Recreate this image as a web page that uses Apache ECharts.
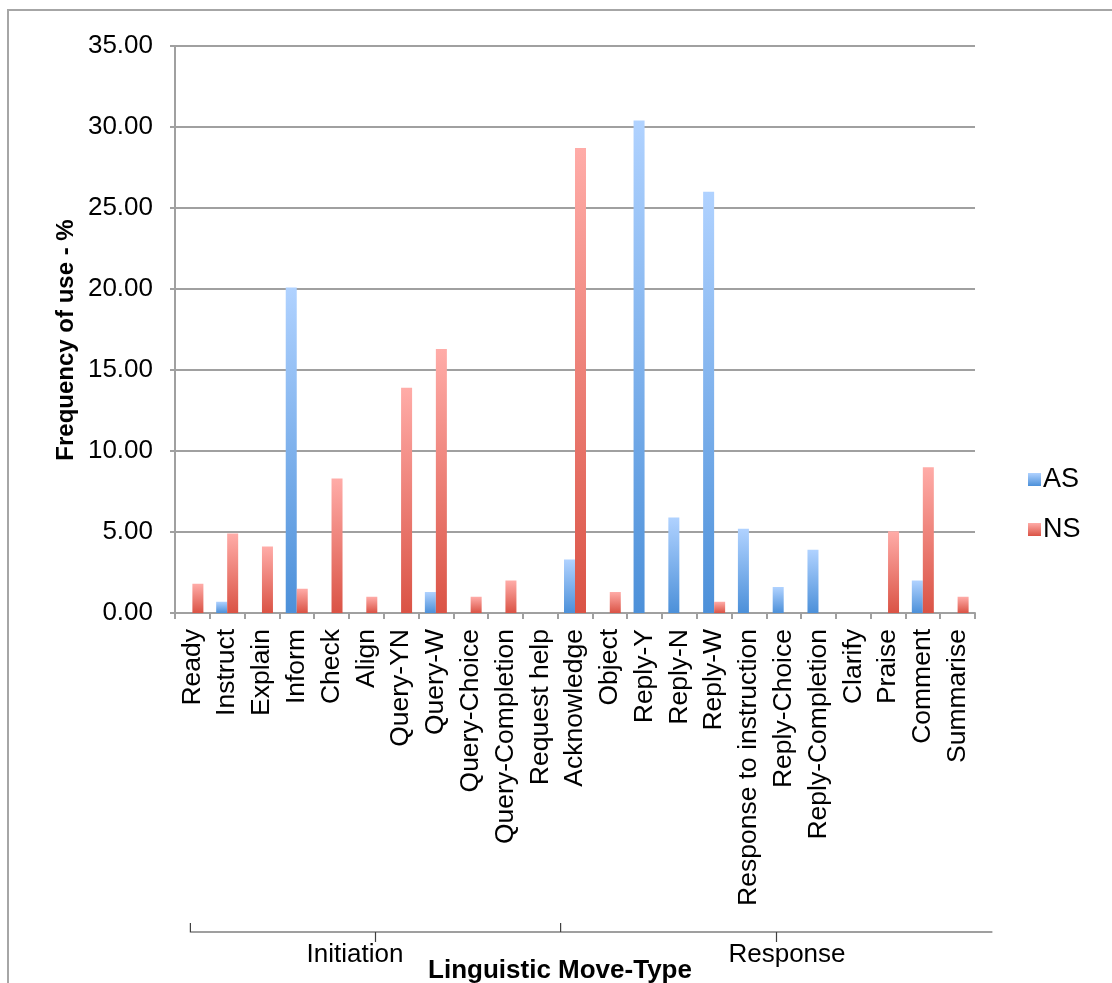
<!DOCTYPE html>
<html>
<head>
<meta charset="utf-8">
<script src="https://cdn.jsdelivr.net/npm/echarts@6/dist/echarts.min.js"></script>
<style>
  html, body { margin: 0; padding: 0; background: #ffffff; }
  #chart { width: 1112px; height: 983px; }
</style>
</head>
<body>
<div id="chart"></div>
<script>
// Move types, in the order they are coded
const categories = [
  'Ready', 'Instruct', 'Explain', 'Inform', 'Check', 'Align', 'Query-YN', 'Query-W',
  'Query-Choice', 'Query-Completion', 'Request help', 'Acknowledge', 'Object',
  'Reply-Y', 'Reply-N', 'Reply-W', 'Response to instruction', 'Reply-Choice',
  'Reply-Completion', 'Clarify', 'Praise', 'Comment', 'Summarise'
];
// Frequency of use (%) per speaker group
const asValues = [0, 0.7, 0, 20.1, 0, 0, 0, 1.3, 0, 0, 0, 3.3, 0, 30.4, 5.9, 26.0, 5.2, 1.6, 3.9, 0, 0, 2.0, 0];
const nsValues = [1.8, 4.9, 4.1, 1.5, 8.3, 1.0, 13.9, 16.3, 1.0, 2.0, 0, 28.7, 1.3, 0, 0, 0.7, 0, 0, 0, 0, 5.05, 9.0, 1.0];
const yTicks = [0, 5, 10, 15, 20, 25, 30, 35];
// Move-type groups: first and last category index of each
const groupNames = ['Initiation', 'Response'];
const groupStarts = [0, 11];
const groupEnds = [10, 22];

const FONT = '"Liberation Sans", Arial, Helvetica, sans-serif';

function grad(top, bottom) {
  return new echarts.graphic.LinearGradient(0, 0, 0, 1, [
    { offset: 0, color: top },
    { offset: 1, color: bottom }
  ]);
}

const chart = echarts.init(document.getElementById('chart'), null, { renderer: 'canvas' });

const barShadow = {
  shadowBlur: 3,
  shadowOffsetX: 2,
  shadowOffsetY: 1,
  shadowColor: 'rgba(0,0,0,0.25)'
};

chart.setOption({
  animation: false,
  backgroundColor: '#ffffff',
  grid: { left: 175, right: 137, top: 46, bottom: 370, containLabel: false },
  legend: {
    orient: 'vertical',
    left: 1023,
    top: 461,
    itemWidth: 13,
    itemHeight: 13,
    itemGap: 23,
    icon: 'rect',
    textStyle: { fontFamily: FONT, fontSize: 27, color: '#000', padding: [0, 0, 0, -3] },
    data: ['AS', 'NS']
  },
  xAxis: {
    type: 'category',
    data: categories,
    axisLine: { show: true, lineStyle: { color: '#a0a0a0', width: 2 } },
    axisTick: { show: true, length: 6, lineStyle: { color: '#a0a0a0', width: 2 } },
    axisLabel: {
      rotate: 90,
      interval: 0,
      margin: 16,
      fontFamily: FONT,
      fontSize: 26.5,
      color: '#000'
    },
    splitLine: { show: false }
  },
  yAxis: {
    type: 'value',
    min: yTicks[0],
    max: yTicks[yTicks.length - 1],
    interval: 5,
    axisLine: { show: true, lineStyle: { color: '#a0a0a0', width: 2 } },
    axisTick: { show: true, length: 5, lineStyle: { color: '#a0a0a0', width: 2 } },
    axisLabel: {
      margin: 22,
      fontFamily: FONT,
      fontSize: 26,
      color: '#000',
      formatter: v => v.toFixed(2)
    },
    splitLine: { show: true, lineStyle: { color: '#a0a0a0', width: 2 } }
  },
  series: [
    {
      name: 'AS',
      type: 'bar',
      data: asValues,
      barWidth: 11,
      barGap: '0%',
      itemStyle: Object.assign({ color: grad('#b0d2ff', '#4c90d9') }, barShadow)
    },
    {
      name: 'NS',
      type: 'bar',
      data: nsValues,
      barWidth: 11,
      barGap: '0%',
      itemStyle: Object.assign({ color: grad('#ffaca8', '#da5345') }, barShadow)
    }
  ]
});

// Group brackets under the category labels, placed from the category scale
function drawGroups() {
  const px = i => chart.convertToPixel({ xAxisIndex: 0 }, i);
  const step = px(1) - px(0);
  const lineY = 932;
  const up = 9;
  const down = 10;
  const elements = [];

  // outer frame of the chart area
  elements.push({
    type: 'rect',
    shape: { x: 8, y: 10, width: 1300, height: 1300 },
    style: { fill: 'none', stroke: '#a6a6a6', lineWidth: 2 },
    silent: true
  });

  // value axis title
  elements.push({
    type: 'text',
    x: 66,
    y: 340,
    rotation: Math.PI / 2,
    style: {
      text: 'Frequency of use - %',
      font: 'bold 24px ' + FONT,
      fill: '#000',
      align: 'center',
      verticalAlign: 'middle'
    },
    silent: true
  });

  const x0 = px(groupStarts[0]) - 2;
  const xJoin = (px(groupEnds[0]) + px(groupStarts[1])) / 2 + 3;
  const xEnd = px(groupEnds[1]) + step;
  const bounds = [[x0, xJoin], [xJoin, xEnd]];

  elements.push({
    type: 'polyline',
    shape: { points: [[x0, lineY - up], [x0, lineY], [xEnd, lineY]] },
    style: { stroke: '#404040', lineWidth: 1.2, fill: null },
    silent: true
  });
  elements.push({
    type: 'line',
    shape: { x1: xJoin, y1: lineY - up, x2: xJoin, y2: lineY },
    style: { stroke: '#404040', lineWidth: 1.2 },
    silent: true
  });

  const labelCenters = [355, 787];
  bounds.forEach((b, k) => {
    const mid = (b[0] + b[1]) / 2;
    elements.push({
      type: 'line',
      shape: { x1: mid, y1: lineY, x2: mid, y2: lineY + down },
      style: { stroke: '#404040', lineWidth: 1.2 },
      silent: true
    });
    elements.push({
      type: 'text',
      x: labelCenters[k],
      y: 955,
      style: {
        text: groupNames[k],
        font: '26px ' + FONT,
        fill: '#000',
        align: 'center',
        verticalAlign: 'middle'
      },
      silent: true
    });
  });

  elements.push({
    type: 'text',
    x: 560,
    y: 971,
    style: {
      text: 'Linguistic Move-Type',
      font: 'bold 26px ' + FONT,
      fill: '#000',
      align: 'center',
      verticalAlign: 'middle'
    },
    silent: true
  });

  chart.setOption({ graphic: elements });
}
drawGroups();
</script>
</body>
</html>
